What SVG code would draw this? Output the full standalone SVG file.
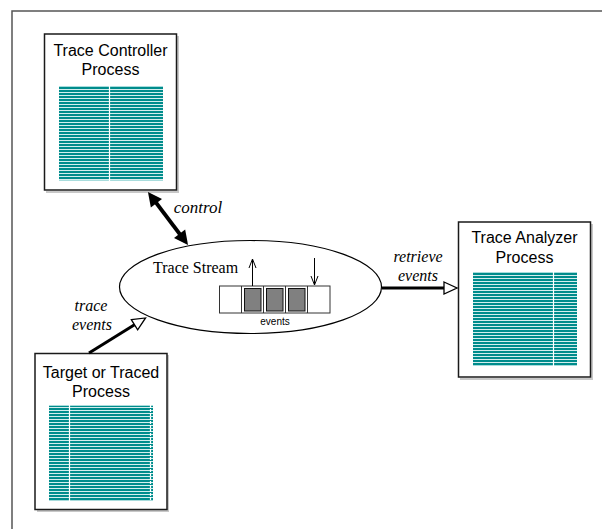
<svg xmlns="http://www.w3.org/2000/svg" width="602" height="529" viewBox="0 0 602 529">
<style>
.box{fill:#fff;stroke:#1a1a1a;stroke-width:1.5}
.shadow{fill:none;stroke:#c8c8c8;stroke-width:2}
.lbl{font-family:"Liberation Sans",Arial,sans-serif;font-size:16px;fill:#000;text-anchor:middle}
.it{font-family:"Liberation Serif","Times New Roman",serif;font-style:italic;font-size:17px;fill:#000;text-anchor:middle}
.it2{font-family:"Liberation Serif","Times New Roman",serif;font-style:italic;font-size:16px;fill:#000;text-anchor:middle}
.serif{font-family:"Liberation Serif","Times New Roman",serif;font-size:16px;fill:#000}
.small{font-family:"Liberation Sans",Arial,sans-serif;font-size:10px;fill:#000;text-anchor:middle}
.div{stroke:#fff;stroke-width:1.2}
.cell{fill:#fff;stroke:#333;stroke-width:1}
.full{fill:#808080;stroke:#111;stroke-width:1}
</style>
<defs>
<pattern id="stripes" width="10" height="3" patternUnits="userSpaceOnUse">
<rect width="10" height="3" fill="#008c8c"/>
<rect y="2" width="10" height="1" fill="#d4eeee"/>
</pattern>
<marker id="solid" markerUnits="userSpaceOnUse" markerWidth="16" markerHeight="16" viewBox="0 0 16 16" refX="6" refY="8" orient="auto-start-reverse" overflow="visible">
<path d="M0,1 L14,8 L0,15 z" fill="#000"/>
</marker>
<marker id="open" markerUnits="userSpaceOnUse" markerWidth="16" markerHeight="14" viewBox="0 0 16 14" refX="1" refY="7" orient="auto" overflow="visible">
<path d="M1,1 L14,7 L1,13 z" fill="#fff" stroke="#000" stroke-width="1.3"/>
</marker>
<marker id="thin" markerUnits="userSpaceOnUse" markerWidth="10" markerHeight="8" viewBox="0 0 10 8" refX="9" refY="4" orient="auto" overflow="visible">
<path d="M0,0.5 L9,4 L0,7.5" fill="none" stroke="#000" stroke-width="1"/>
</marker>
</defs>

<rect width="602" height="529" fill="#fff"/>
<path d="M12,540 L12,11 L610,11" fill="none" stroke="#555" stroke-width="1.5"/>

<g id="controller">
<path class="shadow" d="M178,36 L178,192 L46,192"/>
<rect class="box" x="44.5" y="34" width="132" height="156"/>
<text class="lbl" x="110.5" y="56">Trace Controller</text>
<text class="lbl" x="110.5" y="75">Process</text>
<rect x="59" y="86" width="104" height="95" fill="#a8dcdc"/>
<rect x="59" y="87" width="104" height="93" fill="url(#stripes)"/>
<line class="div" x1="109.5" y1="86" x2="109.5" y2="181"/>
</g>

<g id="analyzer">
<path class="shadow" d="M592,224 L592,379 L460,379"/>
<rect class="box" x="458.5" y="222" width="132" height="155"/>
<text class="lbl" x="524.5" y="243">Trace Analyzer</text>
<text class="lbl" x="524.5" y="263">Process</text>
<rect x="473" y="272" width="104" height="94" fill="#a8dcdc"/>
<rect x="473" y="273" width="104" height="92" fill="url(#stripes)"/>
<line class="div" x1="553.5" y1="272" x2="553.5" y2="366"/>
</g>

<g id="target">
<path class="shadow" d="M168,355 L168,511 L37,511"/>
<rect class="box" x="35" y="353.5" width="132" height="156"/>
<text class="lbl" x="101" y="378">Target or Traced</text>
<text class="lbl" x="101" y="397">Process</text>
<rect x="49" y="405" width="104" height="96" fill="#a8dcdc"/>
<rect x="49" y="406" width="104" height="94" fill="url(#stripes)"/>
<line class="div" x1="69.5" y1="405" x2="69.5" y2="501"/>
<line class="div" x1="150.5" y1="405" x2="150.5" y2="501" stroke-dasharray="3,1"/>
</g>

<g id="stream">
<ellipse cx="250.5" cy="287" rx="131" ry="46.5" fill="#fff" stroke="#000" stroke-width="1.2"/>
<text class="serif" x="153" y="273">Trace Stream</text>
<rect class="cell" x="219.5" y="286" width="110.5" height="27"/>
<line x1="241.5" y1="286" x2="241.5" y2="313" stroke="#333"/>
<line x1="263.5" y1="286" x2="263.5" y2="313" stroke="#333"/>
<line x1="285.5" y1="286" x2="285.5" y2="313" stroke="#333"/>
<line x1="307.5" y1="286" x2="307.5" y2="313" stroke="#333"/>
<rect class="full" x="244.5" y="288.5" width="16.5" height="22.5"/>
<rect class="full" x="266.5" y="288.5" width="16.5" height="22.5"/>
<rect class="full" x="288.5" y="288.5" width="16.5" height="22.5"/>
<text class="small" x="275" y="325">events</text>
<line x1="252.5" y1="286" x2="252.5" y2="259" stroke="#000" stroke-width="1" marker-end="url(#thin)"/>
<line x1="314.5" y1="258" x2="314.5" y2="285" stroke="#000" stroke-width="1" marker-end="url(#thin)"/>
</g>

<g id="connectors">
<line x1="152.8" y1="198.4" x2="183.2" y2="238.6" stroke="#000" stroke-width="4" marker-start="url(#solid)" marker-end="url(#solid)"/>
<text class="it" x="198" y="213">control</text>
<line x1="382" y1="288" x2="444" y2="288" stroke="#000" stroke-width="3" marker-end="url(#open)"/>
<text class="it2" x="418" y="262">retrieve</text>
<text class="it2" x="418" y="281">events</text>
<line x1="89" y1="353" x2="134.5" y2="324.8" stroke="#000" stroke-width="3" marker-end="url(#open)"/>
<text class="it2" x="91" y="311">trace</text>
<text class="it2" x="92" y="330">events</text>
</g>
</svg>
